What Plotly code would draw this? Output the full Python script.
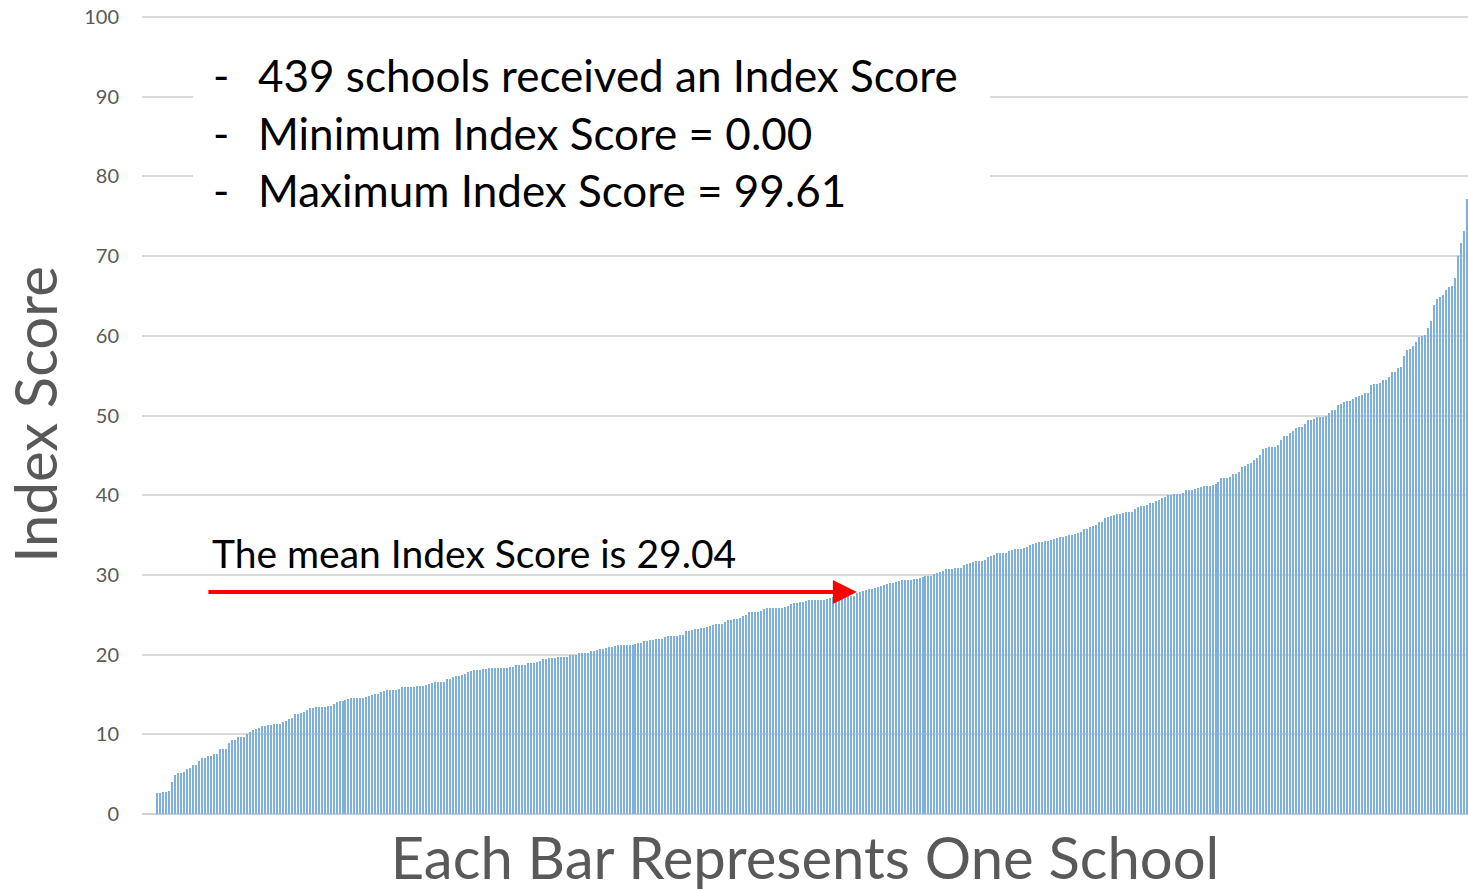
import plotly.graph_objects as go

# Index scores, one per school, read left-to-right off the reference (sorted ascending)
scores_low = [
    2.6, 2.6, 2.7, 2.8, 2.9, 4.0, 4.9, 5.2, 5.2, 5.3,
    5.6, 5.8, 6.1, 6.1, 6.6, 7.0, 7.0, 7.3, 7.3, 7.5,
    7.5, 8.2, 8.2, 8.2, 8.9, 9.3, 9.3, 9.7, 9.7, 9.7,
    10.1, 10.3, 10.5, 10.7, 10.8, 11.0, 11.1, 11.2, 11.2, 11.3,
    11.3, 11.3, 11.5, 11.7, 11.9, 12.0, 12.5, 12.5, 12.7, 12.8,
    13.0, 13.3, 13.3, 13.4, 13.4, 13.4, 13.4, 13.5, 13.6, 13.8,
    14.0, 14.2, 14.2, 14.3, 14.4, 14.5, 14.5, 14.5, 14.6, 14.6,
    14.7, 14.8, 14.9, 15.0, 15.1, 15.3, 15.4, 15.5, 15.5, 15.5,
    15.6, 15.7, 15.9, 15.9, 15.9, 15.9, 15.9, 16.0, 16.1, 16.1,
    16.2, 16.3, 16.4, 16.5, 16.5, 16.5, 16.6, 16.9, 17.0, 17.2,
]
scores_mid_low = [
    17.3, 17.3, 17.4, 17.6, 17.8, 18.0, 18.1, 18.1, 18.1, 18.2,
    18.2, 18.3, 18.3, 18.3, 18.3, 18.3, 18.3, 18.3, 18.4, 18.5,
    18.7, 18.7, 18.7, 18.7, 18.9, 19.0, 19.0, 19.1, 19.2, 19.4,
    19.4, 19.6, 19.6, 19.6, 19.7, 19.7, 19.7, 19.7, 19.9, 19.9,
    19.9, 20.2, 20.2, 20.2, 20.2, 20.4, 20.5, 20.6, 20.7, 20.7,
    20.8, 21.0, 21.0, 21.1, 21.2, 21.2, 21.2, 21.2, 21.2, 21.2,
    21.3, 21.4, 21.5, 21.7, 21.7, 21.8, 21.8, 21.9, 22.0, 22.0,
    22.2, 22.3, 22.3, 22.3, 22.3, 22.4, 22.5, 22.9, 23.0, 23.1,
    23.2, 23.2, 23.3, 23.4, 23.5, 23.6, 23.7, 23.8, 23.8, 23.9,
    24.1, 24.3, 24.4, 24.5, 24.5, 24.6, 24.9, 25.0, 25.3, 25.3,
]
scores_mid = [
    25.3, 25.4, 25.5, 25.7,
    25.8, 25.8, 25.9, 25.9, 25.9, 25.9, 26.0, 26.1,
    26.4, 26.5, 26.5, 26.6, 26.6, 26.7,
    26.9, 26.9, 26.9, 26.9, 26.9, 26.9, 27.0, 27.1,
    27.2, 27.2, 27.2, 27.3, 27.3, 27.3, 27.3, 27.3,
    27.7, 27.8, 28.0, 28.1, 28.2, 28.2, 28.3,
    28.5, 28.6, 28.7, 28.9, 29.0, 29.0, 29.1, 29.2,
    29.4, 29.4, 29.4, 29.4, 29.5, 29.5, 29.6, 29.7,
    29.8, 29.8, 29.9, 30.1, 30.2, 30.4, 30.5, 30.7,
    30.7, 30.8, 30.9, 30.9, 30.9, 31.3, 31.4, 31.5,
    31.6, 31.7, 31.8, 31.8, 31.9, 32.2, 32.4, 32.5,
    32.7, 32.7, 32.7, 32.8, 33.0, 33.1, 33.2, 33.2,
    33.3, 33.4, 33.5, 33.7, 33.9, 34.0, 34.1, 34.1,
    34.2,
    34.3, 34.4, 34.5, 34.6, 34.7, 34.8, 34.9, 35.0, 35.0, 35.1, 35.2, 35.4,
]
scores_mid_high = [
    35.7, 35.8, 36.0, 36.1, 36.2, 36.7, 36.7, 37.2, 37.3, 37.4,
    37.5, 37.6, 37.7, 37.8, 37.9, 37.9, 37.9, 38.3, 38.5, 38.6,
    38.7, 38.8, 39.0, 39.0, 39.3, 39.4, 39.6, 39.8, 40.0, 40.0,
    40.1, 40.1, 40.1, 40.3, 40.6, 40.6, 40.7, 40.8, 40.9, 41.0,
    41.1, 41.1, 41.1, 41.3, 41.4, 41.6, 42.2, 42.2, 42.2, 42.3,
    42.6, 42.7, 42.9, 43.5, 43.7, 43.9, 44.1, 44.4, 44.7, 45.0,
    45.8, 45.9, 46.1, 46.1, 46.1, 46.3, 46.9, 47.4, 47.4, 47.8,
    48.0, 48.4, 48.5,
]
scores_high = [
    48.6, 48.9, 49.4, 49.4, 49.5, 49.8, 49.8, 49.8, 50.0, 50.3,
    50.7, 50.7, 51.3, 51.4, 51.7, 51.8, 51.8, 52.1, 52.3, 52.4,
    52.6, 52.8, 52.8, 53.8, 53.9, 54.0, 54.1, 54.4, 54.5, 54.8,
    55.4, 55.5, 56.0, 56.1, 57.5, 58.2, 58.4, 58.7, 59.2, 59.8,
    60.0, 60.1, 61.0, 61.8, 63.9, 64.6, 64.9, 65.1, 65.8, 66.1,
    66.3, 67.3, 70.0, 71.6, 73.1, 77.2,
]
scores = scores_low + scores_mid_low + scores_mid + scores_mid_high + scores_high
schools = list(range(len(scores)))

y_ticks = [0, 10, 20, 30, 40, 50, 60, 70, 80, 90, 100]

summary_lines = [
    "439 schools received an Index Score",
    "Minimum Index Score = 0.00",
    "Maximum Index Score = 99.61",
]
mean_label = "The mean Index Score is 29.04"
mean_arrow_school = 234
mean_arrow_value = 27.85

FONT = "Lato"
GRAY = "#595959"

fig = go.Figure()
fig.add_trace(go.Bar(
    x=schools, y=scores, width=0.45,
    marker=dict(color="#7db0de", line=dict(width=0)),
    showlegend=False, hoverinfo="y",
))

W, H = 1468, 891
L, R, T, B = 142, 0, 15, 77
pw, ph = W - L - R, H - T - B
Y_MAX = 100.25  # small headroom so the 100 gridline is drawn

def px_x(p):
    return (p - L) / pw

def px_y(p):
    return (H - B - p) / ph

# white box behind the summary text (hides gridlines)
fig.add_shape(type="rect", xref="paper", yref="paper",
              x0=px_x(193), x1=px_x(990), y0=px_y(212), y1=px_y(42),
              fillcolor="white", line=dict(width=0), layer="above")

line_y = [75, 133, 190]
for txt, py in zip(summary_lines, line_y):
    fig.add_annotation(xref="paper", yref="paper", x=px_x(211), y=px_y(py),
                       text="-", showarrow=False, xanchor="left", yanchor="middle",
                       font=dict(family=FONT, size=44, color="black"))
    fig.add_annotation(xref="paper", yref="paper", x=px_x(256), y=px_y(py),
                       text=txt, showarrow=False, xanchor="left", yanchor="middle",
                       font=dict(family=FONT, size=44, color="black"))

fig.add_annotation(xref="paper", yref="paper", x=px_x(210), y=px_y(553),
                   text=mean_label, showarrow=False, xanchor="left", yanchor="middle",
                   font=dict(family=FONT, size=39, color="black"))

fig.add_annotation(x=mean_arrow_school, y=mean_arrow_value, xref="x", yref="y",
                   text="", showarrow=True, ax=-650, ay=0,
                   arrowhead=2, arrowsize=1.2, arrowwidth=4, arrowcolor="#ff0000",
                   standoff=0)

fig.update_layout(
    width=W, height=H,
    margin=dict(l=L, r=R, t=T, b=B, autoexpand=False),
    paper_bgcolor="white", plot_bgcolor="white",
    bargap=0,
    xaxis=dict(range=[-5.12, 438.4], showticklabels=False, showgrid=False,
               zeroline=False, showline=False, ticks="",
               title=dict(text="Each Bar Represents One School",
                          font=dict(family=FONT, size=58, color=GRAY), standoff=24)),
    yaxis=dict(range=[0, Y_MAX], tickvals=y_ticks, ticks="", showline=False,
               gridcolor="#d9d9d9", gridwidth=1.5,
               zeroline=True, zerolinecolor="#d0d0d0", zerolinewidth=2,
               tickfont=dict(family=FONT, size=20, color=GRAY),
               ticklabelstandoff=22, ticklabeloverflow="allow",
               title=dict(text="Index Score",
                          font=dict(family=FONT, size=58, color=GRAY), standoff=20)),
)

# remove the browser's default 8px body margin so the figure fills the window
fig.write_html("out.html", config={"displayModeBar": False},
               post_script="document.body.style.margin='0';document.body.style.overflow='hidden';")
